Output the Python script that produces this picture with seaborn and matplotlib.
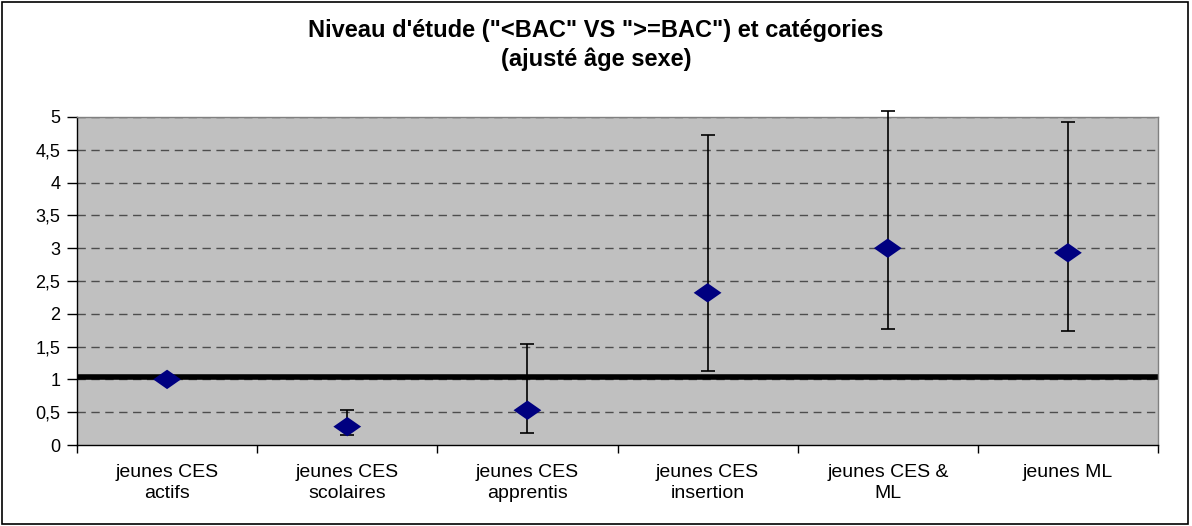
import matplotlib
matplotlib.use("Agg")
import matplotlib.pyplot as plt
import seaborn as sns
import pandas as pd
import numpy as np
from matplotlib.path import Path

categories = ["jeunes CES\nactifs", "jeunes CES\nscolaires", "jeunes CES\napprentis",
              "jeunes CES\ninsertion", "jeunes CES &\nML", "jeunes ML"]
values = [1.0, 0.28, 0.53, 2.32, 3.0, 2.93]
lower = [np.nan, 0.15, 0.18, 1.13, 1.77, 1.74]
upper = [np.nan, 0.53, 1.54, 4.72, 5.09, 4.92]
yticks = [0, 0.5, 1, 1.5, 2, 2.5, 3, 3.5, 4, 4.5, 5]
ytick_labels = ["0", "0,5", "1", "1,5", "2", "2,5", "3", "3,5", "4", "4,5", "5"]
ref_value = 1.03
title = "Niveau d'étude (\"<BAC\" VS \">=BAC\") et catégories\n(ajusté âge sexe)"

sns.set_style("white")
plt.rcParams['font.family'] = ['Liberation Sans', 'DejaVu Sans']
plt.rcParams['text.color'] = 'black'
plt.rcParams['xtick.color'] = 'black'
plt.rcParams['ytick.color'] = 'black'
plt.rcParams['xtick.labelcolor'] = 'black'
plt.rcParams['ytick.labelcolor'] = 'black'

fig = plt.figure(figsize=(11.92, 5.26), dpi=100)
ax = fig.add_axes([77/1192, 81/526, (1158-77)/1192, (445-117)/526])
ax.set_facecolor("#C0C0C0")

df = pd.DataFrame({"x": np.arange(len(categories)), "y": values,
                   "lo": lower, "hi": upper})

# grid
for t in yticks[1:]:
    ax.axhline(t, color="#4d4d4d", lw=1, ls=(0, (6, 4)), zorder=1)

# reference line
ax.axhline(ref_value, color="black", lw=4, zorder=2)

# error bars
m = df["lo"].notna()
eb = ax.errorbar(df.loc[m, "x"], df.loc[m, "y"],
                 yerr=[df.loc[m, "y"] - df.loc[m, "lo"], df.loc[m, "hi"] - df.loc[m, "y"]],
                 fmt="none", ecolor="black", elinewidth=1.2, capsize=5, capthick=1.2, zorder=3)
for art in list(eb.lines[1]) + list(eb.lines[2]):
    art.set_clip_on(False)

diamond = Path([(-1, 0), (0, 0.7), (1, 0), (0, -0.7), (-1, 0)],
               [Path.MOVETO, Path.LINETO, Path.LINETO, Path.LINETO, Path.CLOSEPOLY])
sns.scatterplot(data=df, x="x", y="y", marker=diamond, s=400, color="#000080",
                edgecolor="none", ax=ax, zorder=4, legend=False)

ax.set_xlim(-0.5, len(categories) - 0.5)
ax.set_ylim(0, 5)
ax.set_yticks(yticks)
ax.set_yticklabels(ytick_labels, fontsize=13)
ax.set_xticks(np.arange(len(categories) + 1) - 0.5)
ax.set_xticklabels([])
ax.set_xticks(np.arange(len(categories)), minor=True)
ax.set_xticklabels(categories, minor=True, fontsize=14, linespacing=1.3)
ax.tick_params(axis="x", which="major", length=6, direction="out", color="black", width=1, bottom=True)
ax.tick_params(axis="x", which="minor", length=0, pad=14)
ax.tick_params(axis="y", length=7, direction="out", color="black", width=1, left=True, pad=5)
ax.set_xlabel("")
ax.set_ylabel("")

for side in ["left", "bottom"]:
    ax.spines[side].set_color("black")
    ax.spines[side].set_linewidth(1)
for side in ["top", "right"]:
    ax.spines[side].set_color("#808080")
    ax.spines[side].set_linewidth(1)

fig.text(0.5, 1 - 45/526, title, ha="center", va="center", fontsize=17, fontweight="bold",
         linespacing=1.3, color="black")

# outer border
fig.patches.append(plt.Rectangle((0.002, 0.003), 0.995, 0.994, transform=fig.transFigure,
                                 fill=False, edgecolor="black", lw=1.2))

fig.savefig("out.png", dpi=100)
